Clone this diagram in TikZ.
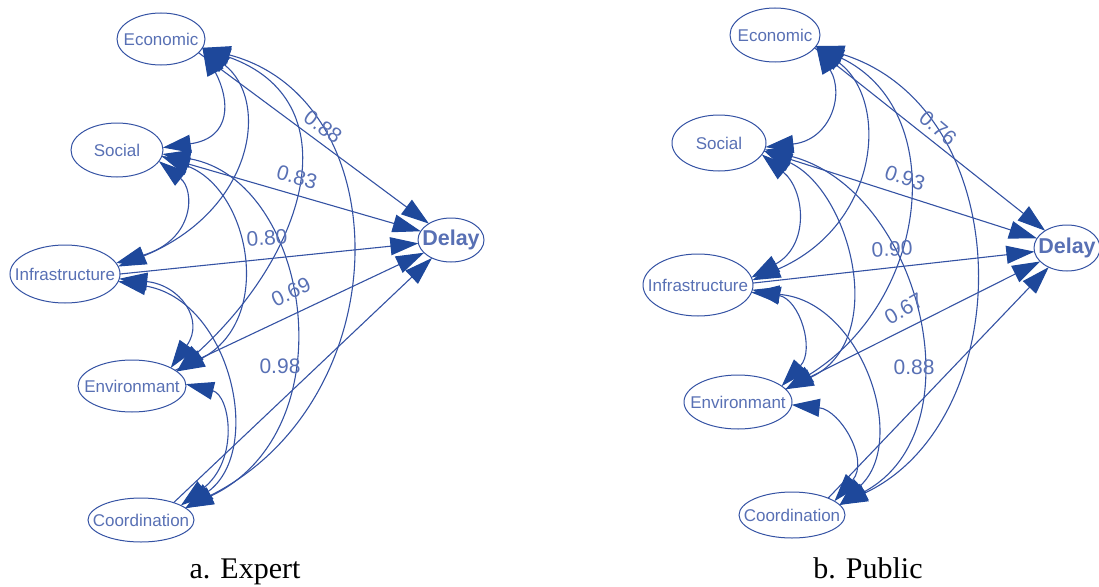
\documentclass[tikz,border=0pt]{standalone}
\usepackage{fontspec}
\setmainfont{Liberation Serif}
\setsansfont{Liberation Sans}
\usetikzlibrary{arrows.meta,shapes.geometric}
\definecolor{linecol}{RGB}{52,82,163}
\definecolor{tipcol}{RGB}{30,72,155}
\definecolor{txtcol}{RGB}{88,112,180}
\newcommand{\mklab}[1]{\makebox[0pt]{#1}}
\begin{document}
\begin{tikzpicture}[x=1pt,y=1pt,
  semtip/.tip={Triangle[length=28pt,width=18pt,color=tipcol]},
  fac/.style={ellipse, draw=linecol, line width=1pt, inner sep=0pt, outer sep=0pt,
    text=txtcol, font=\sffamily\fontsize{17}{17}\selectfont},
  dep/.style={fac, font=\sffamily\bfseries\fontsize{21.5}{21.5}\selectfont},
  reg/.style={draw=linecol, line width=1.1pt, -semtip},
  cov/.style={draw=linecol, line width=1.1pt, semtip-semtip},
  elab/.style={text=txtcol, font=\sffamily\fontsize{21}{21}\selectfont, inner sep=0pt},
  captext/.style={anchor=base, font=\fontsize{30}{30}\selectfont, inner sep=0pt}]
\useasboundingbox (0,0) rectangle (1099,-586);

% ---------- panel a ----------
\node[fac, minimum width=88pt, minimum height=52pt] (eA) at (161,-39) {\mklab{Economic}};
\node[fac, minimum width=92pt, minimum height=54pt] (sA) at (117,-150) {\mklab{Social}};
\node[fac, minimum width=110pt, minimum height=58pt] (iA) at (65,-274) {\mklab{Infrastructure}};
\node[fac, minimum width=108pt, minimum height=52pt] (enA) at (132,-386) {\mklab{Environmant}};
\node[fac, minimum width=106pt, minimum height=44pt] (cA) at (141,-520) {\mklab{Coordination}};
\node[dep, minimum width=66pt, minimum height=44pt] (dA) at (451,-240) {\mklab{Delay}};

\draw[reg] (eA.-20) -- (dA);
\draw[reg] (sA.-8) -- (dA);
\draw[reg] (iA.0) -- (dA);
\draw[reg] (enA.20) -- (dA);
\draw[reg] (cA.28) -- (dA);

\draw[cov] (eA.-12) .. controls (230,-100) and (232,-138) .. (sA.3);
\draw[cov] (eA.-12) .. controls (270,-100) and (255,-210) .. (iA.8);
\draw[cov] (eA.-12) .. controls (350,-100) and (310,-250) .. (enA.18);
\draw[cov] (eA.-12) .. controls (400,-100) and (400,-400) .. (cA.15);
\draw[cov] (sA.-15) .. controls (195,-190) and (195,-240) .. (iA.12);
\draw[cov] (sA.-8) .. controls (250,-190) and (275,-320) .. (enA.18);
\draw[cov] (sA.-5) .. controls (310,-180) and (350,-430) .. (cA.15);
\draw[cov] (iA.-5) .. controls (180,-285) and (205,-320) .. (enA.25);
\draw[cov] (iA.-8) .. controls (230,-300) and (265,-450) .. (cA.15);
\draw[cov] (enA.2) .. controls (230,-395) and (240,-460) .. (cA.20);

\node[elab, rotate=-36] (lA1) at (323,-127) {0.88};
\node[elab, rotate=-16] (lA2) at (297,-177) {0.83};
\node[elab, rotate=4] (lA3) at (267,-238) {0.80};
\node[elab, rotate=25] (lA4) at (291,-292) {0.69};
\node[elab] (lA5) at (280,-366) {0.98};

\node[captext] (capA) at (245,-578) {a. Expert};

% ---------- panel b ----------
\node[fac, minimum width=90pt, minimum height=54pt] (eB) at (775,-35) {\mklab{Economic}};
\node[fac, minimum width=94pt, minimum height=56pt] (sB) at (719,-143) {\mklab{Social}};
\node[fac, minimum width=110pt, minimum height=62pt] (iB) at (698,-285) {\mklab{Infrastructure}};
\node[fac, minimum width=108pt, minimum height=54pt] (enB) at (738,-402) {\mklab{Environmant}};
\node[fac, minimum width=106pt, minimum height=46pt] (cB) at (792,-515) {\mklab{Coordination}};
\node[dep, minimum width=66pt, minimum height=46pt] (dB) at (1067,-248) {\mklab{Delay}};

\draw[reg] (eB.-18) -- (dB);
\draw[reg] (sB.-10) -- (dB);
\draw[reg] (iB.2) -- (dB);
\draw[reg] (enB.15) -- (dB);
\draw[reg] (cB.25) -- (dB);

\draw[cov] (eB.-15) .. controls (845,-95) and (830,-140) .. (sB.-5);
\draw[cov] (eB.-15) .. controls (890,-100) and (880,-225) .. (iB.5);
\draw[cov] (eB.-15) .. controls (950,-110) and (930,-300) .. (enB.15);
\draw[cov] (eB.-15) .. controls (1020,-110) and (1020,-420) .. (cB.12);
\draw[cov] (sB.-15) .. controls (805,-190) and (810,-245) .. (iB.8);
\draw[cov] (sB.-10) .. controls (850,-190) and (890,-340) .. (enB.15);
\draw[cov] (sB.-8) .. controls (920,-190) and (980,-430) .. (cB.12);
\draw[cov] (iB.-5) .. controls (800,-300) and (815,-350) .. (enB.20);
\draw[cov] (iB.-8) .. controls (860,-300) and (910,-440) .. (cB.12);
\draw[cov] (enB.-3) .. controls (840,-410) and (870,-460) .. (cB.18);

\node[elab, rotate=-40] (lB1) at (938,-128) {0.76};
\node[elab, rotate=-19] (lB2) at (905,-178) {0.93};
\node[elab, rotate=4] (lB3) at (892,-249) {0.90};
\node[elab, rotate=30] (lB4) at (904,-309) {0.67};
\node[elab] (lB5) at (914,-367) {0.88};

\node[captext] (capB) at (868,-578) {b. Public};
\end{tikzpicture}
\end{document}
